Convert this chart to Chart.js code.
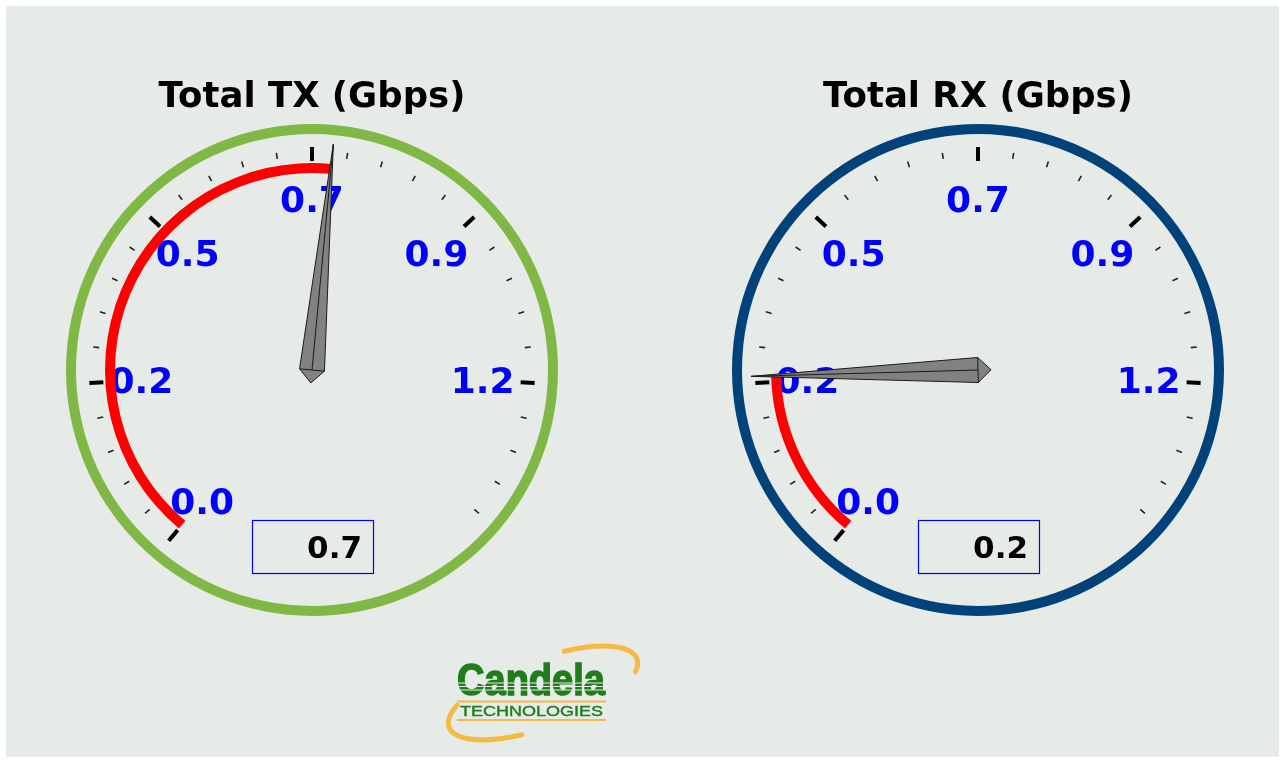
<!DOCTYPE html>
<html>
<head>
<meta charset="utf-8">
<script src="https://cdn.jsdelivr.net/npm/chart.js@4.4.1/dist/chart.umd.min.js"></script>
<style>
  html, body { margin: 0; padding: 0; background: #fff; }
  #panel { position: absolute; left: 6px; top: 6px; width: 1273px; height: 751px; background: #e7ebe8; }
  canvas { position: absolute; }
  #tx { left: 12px; top: 50px; }
  #rx { left: 678px; top: 50px; }
  #logo { position: absolute; left: 440px; top: 640px; }
</style>
</head>
<body>
<div id="panel"></div>
<canvas id="tx" width="600" height="640"></canvas>
<canvas id="rx" width="600" height="640"></canvas>
<svg id="logo" width="210" height="110" viewBox="440 640 210 110">
  <path id="swoosh" fill="none" stroke="#f5ba44" stroke-width="5" stroke-linecap="round"/>
  <text x="457" y="695" font-family="Liberation Sans, Arial, sans-serif" font-weight="bold" font-size="44" fill="#1f7d1a" stroke="#1f7d1a" stroke-width="1.6" textLength="148" lengthAdjust="spacingAndGlyphs">Candela</text>
  <line x1="457" y1="683" x2="606" y2="683" stroke="#e7ebe8" stroke-width="1"/>
  <line x1="457" y1="686.5" x2="606" y2="686.5" stroke="#e7ebe8" stroke-width="1"/>
  <line x1="457" y1="690" x2="606" y2="690" stroke="#e7ebe8" stroke-width="1"/>
  <line x1="457" y1="701.5" x2="606" y2="701.5" stroke="#f5ba44" stroke-width="2"/>
  <text x="460" y="716" font-family="Liberation Sans, Arial, sans-serif" font-size="15" fill="#1f7d1a" stroke="#1f7d1a" stroke-width="0.4" textLength="143" lengthAdjust="spacingAndGlyphs">TECHNOLOGIES</text>
  <line x1="457" y1="720" x2="606" y2="720" stroke="#f5ba44" stroke-width="2"/>
</svg>
<script>
// gauge data
const gaugeIds = ['tx', 'rx'];
const gaugeTitles = ['Total TX (Gbps)', 'Total RX (Gbps)'];
const gaugeValues = [0.727, 0.242];
const gaugeReadouts = ['0.7', '0.2'];
const ringColors = ['#80b845', '#02427b'];
const gaugeMax = 1.4;
const majorTickLabels = ['0.0', '0.2', '0.5', '0.7', '0.9', '1.2'];
const majorCount = 6;   // divisions over the dial, last one has no label
const minorPerMajor = 5;

// swoosh around the logo
(function() {
  const cx = 543, cy = 693, rx = 100, ry = 34, th = -20 * Math.PI / 180;
  const pt = t => {
    const r = t * Math.PI / 180;
    const x = cx + rx * Math.cos(r) * Math.cos(th) - ry * Math.sin(r) * Math.sin(th);
    const y = cy + rx * Math.cos(r) * Math.sin(th) + ry * Math.sin(r) * Math.cos(th);
    return x.toFixed(1) + ' ' + y.toFixed(1);
  };
  const arc = (a, b) => 'M ' + pt(a) + ' A ' + rx + ' ' + ry + ' -20 0 1 ' + pt(b);
  document.getElementById('swoosh').setAttribute('d', arc(-70, 20) + ' ' + arc(110, 212));
})();

const gaugePlugin = {
  id: 'gauge',
  beforeDatasetsDraw(chart) {
    const arcs = chart.getDatasetMeta(2).data;
    const cx = arcs[0].x, cy = arcs[0].y;
    const a0 = arcs[0].startAngle;
    const span = arcs[1].endAngle - a0;
    const ctx = chart.ctx;
    ctx.save();
    // ticks
    const total = majorCount * minorPerMajor;
    for (let k = 0; k < total; k++) {
      const isMajor = k % minorPerMajor === 0;
      const a = a0 + span * k / total;
      const r1 = isMajor ? 209 : 214, r2 = isMajor ? 223 : 220;
      ctx.beginPath();
      ctx.moveTo(cx + r1 * Math.cos(a), cy + r1 * Math.sin(a));
      ctx.lineTo(cx + r2 * Math.cos(a), cy + r2 * Math.sin(a));
      ctx.lineWidth = isMajor ? 4 : 1.6;
      ctx.strokeStyle = isMajor ? '#000' : '#222';
      ctx.stroke();
    }
    // tick labels
    ctx.font = 'bold 36px "DejaVu Sans"';
    ctx.fillStyle = '#0000ff';
    ctx.textAlign = 'center';
    ctx.textBaseline = 'alphabetic';
    majorTickLabels.forEach((lab, i) => {
      const a = a0 + span * i / majorCount;
      ctx.fillText(lab, cx + 171 * Math.cos(a), cy + 171 * Math.sin(a) + 13);
    });
    ctx.restore();
  },
  afterDatasetsDraw(chart, args, opts) {
    const arcs = chart.getDatasetMeta(2).data;
    const cx = arcs[0].x, cy = arcs[0].y;
    const a = arcs[0].endAngle;
    const ctx = chart.ctx;
    ctx.save();
    // needle
    const dx = Math.cos(a), dy = Math.sin(a);
    const px = -dy, py = dx;
    const L = 227, h = 12.5, b = 13;
    const tip = [cx + L * dx, cy + L * dy];
    const c1 = [cx + h * px, cy + h * py];
    const c2 = [cx - h * px, cy - h * py];
    const back = [cx - b * dx, cy - b * dy];
    ctx.beginPath();
    ctx.moveTo(tip[0], tip[1]);
    ctx.lineTo(c1[0], c1[1]);
    ctx.lineTo(back[0], back[1]);
    ctx.lineTo(c2[0], c2[1]);
    ctx.closePath();
    ctx.fillStyle = '#828282';
    ctx.fill();
    ctx.lineWidth = 1;
    ctx.strokeStyle = '#1a1a1a';
    ctx.stroke();
    ctx.beginPath();
    ctx.moveTo(tip[0], tip[1]);
    ctx.lineTo(cx, cy);
    ctx.moveTo(c1[0], c1[1]);
    ctx.lineTo(c2[0], c2[1]);
    ctx.stroke();
    // readout box
    ctx.strokeStyle = '#0000ff';
    ctx.lineWidth = 1.2;
    ctx.strokeRect(cx - 60 + 0.5, cy + 150.5, 121, 53);
    ctx.font = 'bold 31px "DejaVu Sans"';
    ctx.fillStyle = '#000';
    ctx.textAlign = 'right';
    ctx.fillText(opts.readout, cx + 50, cy + 188);
    // title
    ctx.font = 'bold 35.5px "DejaVu Sans"';
    ctx.textAlign = 'center';
    ctx.fillText(opts.title, cx, cy - 263);
    ctx.restore();
  }
};

function makeGauge(i) {
  const value = gaugeValues[i];
  return new Chart(document.getElementById(gaugeIds[i]), {
    type: 'doughnut',
    data: {
      labels: ['value', 'rest'],
      datasets: [
        { data: [1], backgroundColor: [ringColors[i]], weight: 10, circumference: 360, rotation: -140 },
        { data: [1], backgroundColor: ['rgba(0,0,0,0)'], weight: 29, circumference: 360, rotation: -140 },
        { data: [value, gaugeMax - value], backgroundColor: ['#ff0000', 'rgba(0,0,0,0)'], weight: 10, circumference: 280, rotation: -140 }
      ]
    },
    options: {
      responsive: false,
      animation: false,
      devicePixelRatio: 1,
      events: [],
      radius: 246,
      cutout: (197 / 246 * 100) + '%',
      elements: { arc: { borderWidth: 0 } },
      layout: { padding: 0 },
      plugins: {
        legend: { display: false },
        tooltip: { enabled: false },
        gauge: { title: gaugeTitles[i], readout: gaugeReadouts[i] }
      }
    },
    plugins: [gaugePlugin]
  });
}

gaugeIds.forEach((id, i) => makeGauge(i));
</script>
</body>
</html>
